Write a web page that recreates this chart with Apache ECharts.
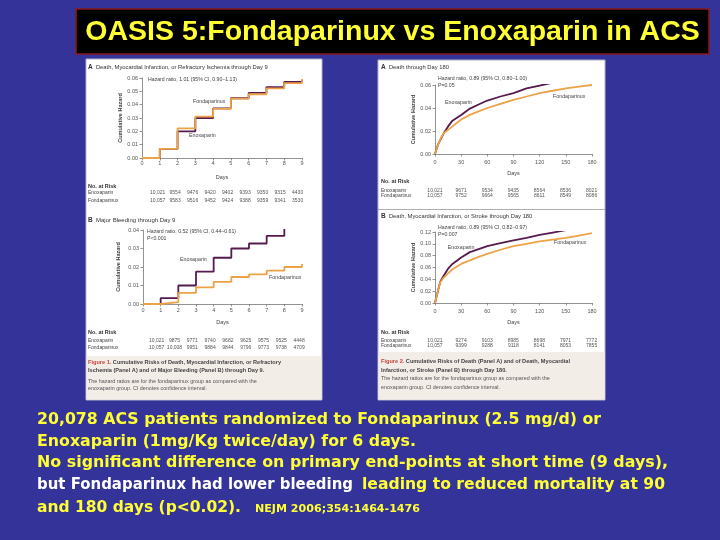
<!DOCTYPE html>
<html>
<head>
<meta charset="utf-8">
<script src="https://cdn.jsdelivr.net/npm/echarts@6/dist/echarts.min.js"></script>
<style>
  html, body { margin: 0; padding: 0; background: #333399; }
  #main { width: 720px; height: 540px; }
</style>
</head>
<body>
<div id="main"></div>
<script>
// Figure 1 A: death, MI or refractory ischemia through day 9 (step curves)
var daysShort = [0, 1, 2, 3, 4, 5, 6, 7, 8, 9];
var ischEnox = [0, 0.0068, 0.0200, 0.0300, 0.0372, 0.0448, 0.0488, 0.0532, 0.0570, 0.0585];
var ischFonda = [0, 0.0068, 0.0222, 0.0310, 0.0368, 0.0445, 0.0478, 0.0522, 0.0562, 0.0592];
// Figure 1 B: major bleeding through day 9
var bleedEnox = [0, 0.0032, 0.0100, 0.0175, 0.0250, 0.0300, 0.0327, 0.0368, 0.0410, 0.0420];
var bleedFonda = [0, 0.0010, 0.0060, 0.0090, 0.0120, 0.0146, 0.0160, 0.0180, 0.0200, 0.0216];

// Figure 2 A/B: through day 180
var daysLong = [0, 2, 4, 6, 8, 10, 15, 20, 30, 40, 50, 60, 75, 90, 105, 120, 135, 150, 165, 180];
var deathEnox = [0, 0.005, 0.009, 0.012, 0.015, 0.018, 0.024, 0.029, 0.034, 0.0395, 0.043, 0.0465, 0.050, 0.053, 0.057, 0.0595, 0.062, 0.064, 0.0655, 0.0675];
var deathFonda = [0, 0.005, 0.009, 0.0125, 0.0155, 0.018, 0.021, 0.024, 0.030, 0.034, 0.037, 0.040, 0.0435, 0.047, 0.050, 0.053, 0.055, 0.057, 0.0585, 0.060];
var dmsEnox = [0, 0.012, 0.024, 0.036, 0.041, 0.046, 0.058, 0.066, 0.077, 0.086, 0.091, 0.096, 0.101, 0.106, 0.110, 0.115, 0.119, 0.123, 0.127, 0.131];
var dmsFonda = [0, 0.012, 0.024, 0.035, 0.039, 0.043, 0.050, 0.057, 0.066, 0.072, 0.078, 0.083, 0.090, 0.096, 0.100, 0.104, 0.107, 0.110, 0.114, 0.118];

// numbers at risk
var riskIschEnox = ['10,021', '9554', '9476', '9420', '9402', '9393', '9350', '9315', '4430'];
var riskIschFonda = ['10,057', '9583', '9516', '9452', '9424', '9388', '9359', '9341', '3530'];
var riskBleedEnox = ['10,021', '9875', '9771', '9740', '9682', '9625', '9575', '9525', '4448'];
var riskBleedFonda = ['10,057', '10,008', '9951', '9884', '9844', '9796', '9773', '9738', '4709'];
var riskDeathEnox = ['10,021', '9671', '9534', '9435', '8564', '8536', '8021'];
var riskDeathFonda = ['10,057', '9752', '9664', '9565', '8611', '8549', '8086'];
var riskDmsEnox = ['10,021', '9274', '9103', '8985', '8698', '7971', '7772'];
var riskDmsFonda = ['10,057', '9399', '9288', '9118', '8141', '8053', '7855'];

var FONT = '"Liberation Sans", Arial, sans-serif';
var SLIDE_FONT = '"DejaVu Sans", sans-serif';
var ENOX = '#561a4e';
var FONDA = '#eca246';
var YEL = '#ffff33';

function pairs(xs, ys) {
  return xs.map(function (d, i) { return [d, ys[i]]; });
}

function txt(x, y, s, size, o) {
  o = o || {};
  return {
    type: 'text', x: x, y: y, z: 10, scaleX: o.scaleX || 1,
    style: {
      text: s, fill: o.fill || '#444', fontSize: size, fontFamily: o.family || FONT,
      fontWeight: o.weight || 'normal',
      align: o.align || 'left', textAlign: o.align || 'left',
      verticalAlign: 'middle', textVerticalAlign: 'middle',
      rich: o.rich || {}
    }
  };
}

// slide text fitted to the width it takes on the slide
var measureCtx = document.createElement('canvas').getContext('2d');
function fitText(x, y, s, size, width, fill) {
  measureCtx.font = 'bold ' + size + 'px ' + SLIDE_FONT;
  var w = measureCtx.measureText(s).width;
  return txt(x, y, s, size, { fill: fill, weight: 'bold', family: SLIDE_FONT, scaleX: width / w });
}

function riskRows(list, x0, dx, ys, rows) {
  rows.forEach(function (r, k) {
    r.forEach(function (v, i) {
      list.push(txt(x0 + i * dx, ys[k], v, 5, { align: 'center', fill: '#555' }));
    });
  });
}

function xAx(gi, max, step, margin, gap) {
  return {
    type: 'value', gridIndex: gi, min: 0, max: max, interval: step, z: 6,
    name: 'Days', nameLocation: 'middle', nameGap: gap,
    nameTextStyle: { fontSize: 5.5, color: '#444', fontFamily: FONT },
    axisLine: { lineStyle: { color: '#777', width: 0.8 } },
    axisTick: { length: 2.5, lineStyle: { color: '#777', width: 0.8 } },
    axisLabel: { fontSize: 5.5, color: '#555', margin: margin, fontFamily: FONT },
    splitLine: { show: false }
  };
}

function yAx(gi, max, step, gap) {
  return {
    type: 'value', gridIndex: gi, min: 0, max: max, interval: step, z: 6,
    name: 'Cumulative Hazard', nameLocation: 'middle', nameGap: gap,
    nameTextStyle: { fontSize: 5.5, color: '#444', fontFamily: FONT, fontWeight: 'bold' },
    axisLine: { show: true, lineStyle: { color: '#777', width: 0.8 } },
    axisTick: { show: true, length: 2.5, lineStyle: { color: '#777', width: 0.8 } },
    axisLabel: { fontSize: 5.5, color: '#555', margin: 4, fontFamily: FONT,
      formatter: function (v) { return v.toFixed(2); } },
    splitLine: { show: false }
  };
}

function curve(idx, data, color, step) {
  return {
    type: 'line', xAxisIndex: idx, yAxisIndex: idx, data: data, step: step || false,
    showSymbol: false, lineStyle: { color: color, width: 1.8 }, itemStyle: { color: color },
    silent: true, z: 7
  };
}

var g = [];
// slide title
g.push({ type: 'rect', z: 1, shape: { x: 76, y: 9, width: 633, height: 45 },
  style: { fill: '#000', stroke: '#8b1a1a', lineWidth: 1.5 } });
g.push(txt(392.5, 32, 'OASIS 5:Fondaparinux vs Enoxaparin in ACS', 28.5, { align: 'center', fill: YEL, weight: 'bold' }));

// figure panels
g.push({ type: 'rect', z: 1, shape: { x: 86, y: 59, width: 236, height: 341 },
  style: { fill: '#fff', stroke: '#b4b4c4', lineWidth: 1 } });
g.push({ type: 'rect', z: 1, shape: { x: 86.5, y: 356, width: 235, height: 43.5 }, style: { fill: '#f3ede8' } });
g.push({ type: 'rect', z: 1, shape: { x: 378, y: 60, width: 227, height: 340 },
  style: { fill: '#fff', stroke: '#b4b4c4', lineWidth: 1 } });
g.push({ type: 'rect', z: 1, shape: { x: 378.5, y: 352, width: 226, height: 47.5 }, style: { fill: '#f3ede8' } });
g.push({ type: 'line', z: 1, shape: { x1: 378, y1: 209.5, x2: 605, y2: 209.5 }, style: { stroke: '#999', lineWidth: 0.8 } });

var bold = { b: { fontWeight: 'bold', fontSize: 6.5, fill: '#333' } };
// Figure 1 A
g.push(txt(88, 67, '{b|A}  Death, Myocardial Infarction, or Refractory Ischemia through Day 9', 5.8, { rich: bold, fill: '#333' }));
g.push(txt(148, 80, 'Hazard ratio, 1.01 (95% CI, 0.90\u20131.13)', 5.2));
g.push(txt(193, 101.5, 'Fondaparinux', 5.3));
g.push(txt(189, 136, 'Enoxaparin', 5.3));
g.push(txt(88, 186.7, 'No. at Risk', 5.5, { weight: 'bold', fill: '#333' }));
g.push(txt(88, 193, 'Enoxaparin', 5));
g.push(txt(88, 200.7, 'Fondaparinux', 5));
riskRows(g, 157.6, 17.5, [193, 200.7], [riskIschEnox, riskIschFonda]);

// Figure 1 B
g.push(txt(88, 220, '{b|B}  Major Bleeding through Day 9', 6, { rich: bold, fill: '#333' }));
g.push(txt(147, 232, 'Hazard ratio, 0.52 (95% CI, 0.44\u20130.61)', 5.2));
g.push(txt(147, 239, 'P<0.001', 5.2));
g.push(txt(180, 260, 'Enoxaparin', 5.3));
g.push(txt(269, 278, 'Fondaparinux', 5.3));
g.push(txt(88, 332.3, 'No. at Risk', 5.5, { weight: 'bold', fill: '#333' }));
g.push(txt(88, 340.3, 'Enoxaparin', 5));
g.push(txt(88, 347.7, 'Fondaparinux', 5));
riskRows(g, 156.7, 17.8, [340.3, 347.7], [riskBleedEnox, riskBleedFonda]);

var figRich = { r: { fill: '#c9453a', fontWeight: 'bold', fontSize: 5.6 } };
g.push(txt(88, 362.7, '{r|Figure 1.} Cumulative Risks of Death, Myocardial Infarction, or Refractory', 5.6, { rich: figRich, weight: 'bold', fill: '#444' }));
g.push(txt(88, 370, 'Ischemia (Panel A) and of Major Bleeding (Panel B) through Day 9.', 5.6, { weight: 'bold', fill: '#444' }));
g.push(txt(88, 381.7, 'The hazard ratios are for the fondaparinux group as compared with the', 5.4, { fill: '#555' }));
g.push(txt(88, 388.3, 'enoxaparin group. CI denotes confidence interval.', 5.4, { fill: '#555' }));

// Figure 2 A
g.push(txt(381, 67.7, '{b|A}  Death through Day 180', 5.8, { rich: bold, fill: '#333' }));
g.push(txt(438, 79, 'Hazard ratio, 0.89 (95% CI, 0.80\u20131.00)', 5.2));
g.push(txt(438, 85.5, 'P=0.05', 5.2));
g.push(txt(445, 102.3, 'Enoxaparin', 5.3));
g.push(txt(553, 96.7, 'Fondaparinux', 5.3));
g.push(txt(381, 181.7, 'No. at Risk', 5.5, { weight: 'bold', fill: '#333' }));
g.push(txt(381, 190.5, 'Enoxaparin', 5));
g.push(txt(381, 196, 'Fondaparinux', 5));
riskRows(g, 435, 26.1, [190.5, 196], [riskDeathEnox, riskDeathFonda]);

// Figure 2 B
g.push(txt(381, 216, '{b|B}  Death, Myocardial Infarction, or Stroke through Day 180', 5.8, { rich: bold, fill: '#333' }));
g.push(txt(438, 227.7, 'Hazard ratio, 0.89 (95% CI, 0.82\u20130.97)', 5.2));
g.push(txt(438, 234.3, 'P=0.007', 5.2));
g.push(txt(447.7, 247.7, 'Enoxaparin', 5.3));
g.push(txt(554, 242.7, 'Fondaparinux', 5.3));
g.push(txt(381, 332.3, 'No. at Risk', 5.5, { weight: 'bold', fill: '#333' }));
g.push(txt(381, 340.3, 'Enoxaparin', 5));
g.push(txt(381, 345.7, 'Fondaparinux', 5));
riskRows(g, 435, 26.1, [340.3, 345.7], [riskDmsEnox, riskDmsFonda]);

g.push(txt(381, 361.7, '{r|Figure 2.} Cumulative Risks of Death (Panel A) and of Death, Myocardial', 5.6, { rich: figRich, weight: 'bold', fill: '#444' }));
g.push(txt(381, 370, 'Infarction, or Stroke (Panel B) through Day 180.', 5.6, { weight: 'bold', fill: '#444' }));
g.push(txt(381, 379, 'The hazard ratios are for the fondaparinux group as compared with the', 5.4, { fill: '#555' }));
g.push(txt(381, 387.7, 'enoxaparin group. CI denotes confidence interval.', 5.4, { fill: '#555' }));

// slide text below the figures
var S = 16.3;
g.push(fitText(37, 420, '20,078 ACS patients randomized to Fondaparinux (2.5 mg/d) or', S, 564, YEL));
g.push(fitText(37, 441.5, 'Enoxaparin (1mg/Kg twice/day) for 6 days.', S, 379, YEL));
g.push(fitText(37, 463, 'No significant difference on primary end-points at short time (9 days),', S, 631, YEL));
g.push(fitText(37, 485, 'but Fondaparinux had lower bleeding', S, 316, '#ffffff'));
g.push(fitText(362, 485, 'leading to reduced mortality at 90', S, 303, YEL));
g.push(fitText(37, 508, 'and 180 days (p<0.02).', S, 204, YEL));
g.push(fitText(255, 509, 'NEJM 2006;354:1464-1476', 11, 165, YEL));

var option = {
  backgroundColor: '#333399',
  animation: false,
  grid: [
    { left: 142, top: 78, width: 160, height: 80 },
    { left: 143, top: 230, width: 159, height: 74 },
    { left: 435, top: 85, width: 157, height: 69 },
    { left: 435, top: 232, width: 157, height: 71 }
  ],
  xAxis: [xAx(0, 9, 1, 2.5, 16), xAx(1, 9, 1, 3.5, 15), xAx(2, 180, 30, 5, 16), xAx(3, 180, 30, 5, 16)],
  yAxis: [yAx(0, 0.06, 0.01, 14), yAx(1, 0.04, 0.01, 22), yAx(2, 0.06, 0.02, 19), yAx(3, 0.12, 0.02, 19)],
  series: [
    curve(0, pairs(daysShort, ischEnox), ENOX, 'end'),
    curve(0, pairs(daysShort, ischFonda), FONDA, 'end'),
    curve(1, pairs(daysShort, bleedEnox), ENOX, 'end'),
    curve(1, pairs(daysShort, bleedFonda), FONDA, 'end'),
    curve(2, pairs(daysLong, deathEnox), ENOX),
    curve(2, pairs(daysLong, deathFonda), FONDA),
    curve(3, pairs(daysLong, dmsEnox), ENOX),
    curve(3, pairs(daysLong, dmsFonda), FONDA)
  ],
  graphic: { elements: g }
};

var myChart = echarts.init(document.getElementById('main'));
myChart.setOption(option);
</script>
</body>
</html>
